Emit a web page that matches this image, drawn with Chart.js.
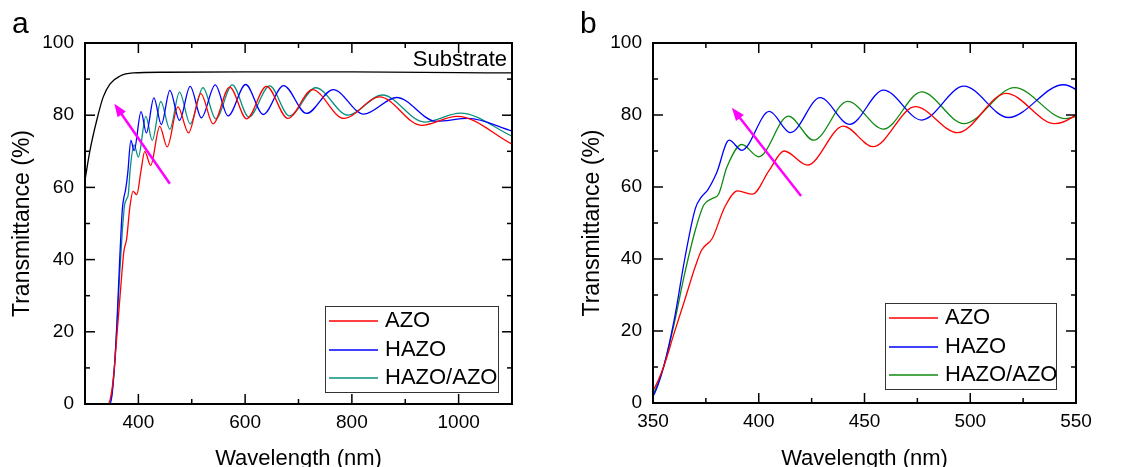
<!DOCTYPE html>
<html>
<head>
<meta charset="utf-8">
<script src="https://cdn.jsdelivr.net/npm/chart.js@4.4.1/dist/chart.umd.min.js"></script>
<style>
html,body{margin:0;padding:0;background:#fff;overflow:hidden}
#wrap{position:relative;width:1136px;height:467px}
canvas{position:absolute;top:0}
#ca{left:0}
#cb{left:570px}
</style>
</head>
<body>
<div id="wrap">
<canvas id="ca" width="568" height="467"></canvas>
<canvas id="cb" width="566" height="467"></canvas>
</div>
<script>
// Transmittance spectra
const subWl = [300, 309, 322, 334, 347, 365, 390, 450, 600, 800, 1000, 1100];
const subT  = [62, 70, 78.6, 85, 88.7, 90.8, 91.7, 91.9, 92, 92, 91.8, 91.7];

const azoWl = [300, 343, 350, 355, 360, 365, 370, 373, 378, 384, 390, 397, 405, 412, 423, 440, 454, 474, 494, 517, 540, 571, 603, 640, 680, 726, 785, 852, 930, 997, 1100];
const azoT  = [0, 0, 3.5, 10, 19.4, 28.6, 37.9, 42.5, 45.7, 54.5, 58.9, 58, 64.7, 70, 66.1, 76.9, 71.2, 82.3, 75.1, 86, 77.6, 87.8, 79, 88, 79.1, 87.1, 79.1, 85.1, 77.2, 79.7, 72];

const hazoWl = [300, 346, 350, 355, 360, 365, 370, 373, 376, 380, 386, 392, 405, 415, 429, 443, 459, 477, 497, 518, 544, 568, 601, 634, 672, 715, 765, 822, 884, 958, 1018, 1100];
const hazoT  = [0, 0, 1.8, 10, 23, 40, 54, 57.3, 59.3, 63.8, 73, 70.2, 81, 75.1, 84.8, 77.4, 86.9, 78.6, 88, 79.3, 88.4, 79.8, 88.5, 80.2, 88.2, 80.5, 87.1, 80.3, 84.9, 78.3, 79.1, 75.6];

const bilWl = [300, 345, 350, 355, 360, 365, 370, 374, 378, 381, 385, 392, 400, 414, 426, 442, 459, 477, 497, 521, 545, 576, 607, 646, 683, 732, 793, 857, 936, 1003, 1100];
const bilT  = [0, 0, 2.5, 10, 22, 36, 48, 55, 56.8, 58, 65.6, 71.8, 68.4, 79.7, 73, 83.8, 76.1, 86.4, 77.6, 87.6, 79, 88.4, 79.5, 88.1, 79.8, 87.6, 80, 85.6, 78.1, 80.6, 74.2];

// axes
const xTicksA = [400, 600, 800, 1000];
const xMinorA = [500, 700, 900];
const xTicksB = [350, 400, 450, 500, 550];
const xMinorB = [375, 425, 475, 525];
const yTicks = [0, 20, 40, 60, 80, 100];
const yMinor = [10, 30, 50, 70, 90];

// arrows [tail, tip] in (nm, %)
const arrowA = [[459, 61], [355, 83.2]];
const arrowB = [[420, 57.5], [387.3, 82]];

const FONT = "'Liberation Sans', Arial, sans-serif";
Chart.defaults.font.family = FONT;
Chart.defaults.color = '#000';

const RED = '#ff0000', BLUE = '#0000ff', TEAL = '#0a9080', GREEN = '#108a10';

const pts = (xs, ys) => xs.map((x, i) => ({x: x, y: ys[i]}));
function line(ds, label, color) {
  return {label: label, data: ds, borderColor: color, backgroundColor: color, borderWidth: 1.3,
    pointRadius: 0, cubicInterpolationMode: 'monotone', fill: false};
}

function decor(cfg) {
  return {
    id: 'decor',
    afterDraw(chart) {
      const ctx = chart.ctx, a = chart.chartArea, x = chart.scales.x, y = chart.scales.y;
      ctx.save();
      ctx.strokeStyle = '#000';
      ctx.lineWidth = 1.5;
      const seg = (x1, y1, x2, y2) => { ctx.beginPath(); ctx.moveTo(x1, y1); ctx.lineTo(x2, y2); ctx.stroke(); };
      const xt = (v, len) => { const p = x.getPixelForValue(v); seg(p, a.bottom, p, a.bottom - len); seg(p, a.top, p, a.top + len); };
      const yt = (v, len) => { const p = y.getPixelForValue(v); seg(a.left, p, a.left + len, p); seg(a.right, p, a.right - len, p); };
      cfg.xTicks.forEach(v => xt(v, 10));
      cfg.xMinor.forEach(v => xt(v, 5));
      yTicks.forEach(v => yt(v, 10));
      yMinor.forEach(v => yt(v, 5));
      ctx.lineWidth = 2;
      ctx.strokeRect(a.left, a.top, a.right - a.left, a.bottom - a.top);

      // arrow
      const t0 = [x.getPixelForValue(cfg.arrow[0][0]), y.getPixelForValue(cfg.arrow[0][1])];
      const t1 = [x.getPixelForValue(cfg.arrow[1][0]), y.getPixelForValue(cfg.arrow[1][1])];
      const ang = Math.atan2(t1[1] - t0[1], t1[0] - t0[0]);
      ctx.strokeStyle = '#ff00ff';
      ctx.fillStyle = '#ff00ff';
      ctx.lineWidth = 2.5;
      seg(t0[0], t0[1], t1[0] - 8 * Math.cos(ang), t1[1] - 8 * Math.sin(ang));
      ctx.beginPath();
      ctx.moveTo(t1[0], t1[1]);
      ctx.lineTo(t1[0] - 13 * Math.cos(ang) + 5 * Math.sin(ang), t1[1] - 13 * Math.sin(ang) - 5 * Math.cos(ang));
      ctx.lineTo(t1[0] - 13 * Math.cos(ang) - 5 * Math.sin(ang), t1[1] - 13 * Math.sin(ang) + 5 * Math.cos(ang));
      ctx.closePath();
      ctx.fill();

      // legend
      const L = cfg.legend;
      const bx = a.right - L.right - L.w, by = a.bottom - L.bottom - L.h;
      ctx.fillStyle = '#fff';
      ctx.fillRect(bx, by, L.w, L.h);
      ctx.strokeStyle = '#333';
      ctx.lineWidth = 1;
      ctx.strokeRect(bx + 0.5, by + 0.5, L.w, L.h);
      ctx.font = '22px ' + FONT;
      ctx.textBaseline = 'middle';
      ctx.textAlign = 'left';
      const items = chart.data.datasets.filter(d => d.label !== 'Substrate');
      for (let i = 0; i < items.length; i++) {
        const d = items[i];
        const ry = Math.round(by + 14.7 + i * 28.8);
        ctx.beginPath();
        ctx.strokeStyle = d.borderColor;
        ctx.lineWidth = 1.6;
        ctx.moveTo(bx + 4, ry);
        ctx.lineTo(bx + 53, ry);
        ctx.stroke();
        ctx.fillStyle = '#000';
        ctx.fillText(d.label, bx + 60, ry);
      }

      if (cfg.substrate) {
        ctx.textAlign = 'right';
        ctx.textBaseline = 'alphabetic';
        ctx.fillText('Substrate', a.right - 5, a.top + 23);
      }
      ctx.font = '30px ' + FONT;
      ctx.textAlign = 'left';
      ctx.textBaseline = 'alphabetic';
      ctx.fillStyle = '#000';
      ctx.fillText(cfg.tag, cfg.tagX, 33);
      ctx.restore();
    }
  };
}

function makeChart(id, datasets, xmin, xmax, xTicks, yw, xh, pad, cfg) {
  return new Chart(document.getElementById(id), {
    type: 'line',
    data: {datasets: datasets},
    options: {
      responsive: false, animation: false, devicePixelRatio: 1,
      layout: {padding: pad},
      plugins: {legend: {display: false}, tooltip: {enabled: false}},
      scales: {
        x: {
          type: 'linear', min: xmin, max: xmax,
          grid: {display: false, drawTicks: false}, border: {display: false},
          afterBuildTicks: s => { s.ticks = xTicks.map(v => ({value: v})); },
          afterFit: s => { s.height = xh; },
          ticks: {font: {size: 19}, padding: 7, maxRotation: 0, autoSkip: false, color: '#000', callback: v => String(v)},
          title: {display: true, text: 'Wavelength (nm)', font: {size: 22, lineHeight: 1}, padding: {top: 0, bottom: -3}, color: '#000'}
        },
        y: {
          type: 'linear', min: 0, max: 100,
          grid: {display: false, drawTicks: false}, border: {display: false},
          afterBuildTicks: s => { s.ticks = yTicks.map(v => ({value: v})); },
          afterFit: s => { s.width = yw; },
          ticks: {font: {size: 19}, padding: 11, color: '#000', callback: v => String(v)},
          title: {display: true, text: 'Transmittance (%)', font: {size: 23, lineHeight: 1}, padding: {top: 11, bottom: 0}, color: '#000'}
        }
      }
    },
    plugins: [decor(cfg)]
  });
}

makeChart('ca', [
  line(pts(subWl, subT), 'Substrate', '#000000'),
  line(pts(azoWl, azoT), 'AZO', RED),
  line(pts(hazoWl, hazoT), 'HAZO', BLUE),
  line(pts(bilWl, bilT), 'HAZO/AZO', TEAL)
], 300, 1100, xTicksA, 85, 63, {left: 0, right: 56, top: 43, bottom: 0},
  {xTicks: xTicksA, xMinor: xMinorA, arrow: arrowA, legend: {w: 173, h: 86, right: 14, bottom: 12}, substrate: true, tag: 'a', tagX: 12});

makeChart('cb', [
  line(pts(azoWl, azoT), 'AZO', RED),
  line(pts(hazoWl, hazoT), 'HAZO', BLUE),
  line(pts(bilWl, bilT), 'HAZO/AZO', GREEN)
], 350, 550, xTicksB, 83, 64, {left: 0, right: 60, top: 43, bottom: 0},
  {xTicks: xTicksB, xMinor: xMinorB, arrow: arrowB, legend: {w: 171, h: 86, right: 20, bottom: 14}, substrate: false, tag: 'b', tagX: 10});
</script>
</body>
</html>
